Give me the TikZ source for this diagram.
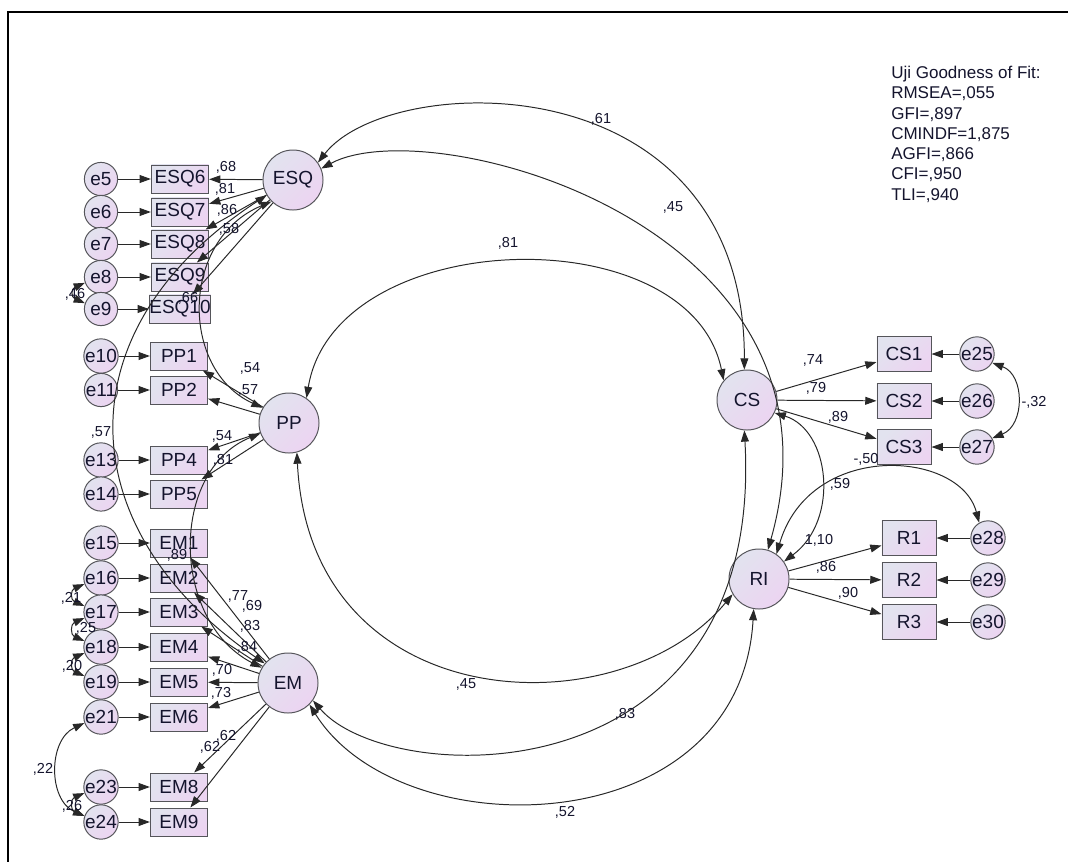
\documentclass[tikz,border=0pt]{standalone}
\usepackage{fontspec}
\setmainfont{Liberation Sans}
\usepackage{tikz}
\usetikzlibrary{arrows.meta,positioning}

\definecolor{lavtop}{RGB}{226,227,239}
\definecolor{lavbot}{RGB}{236,212,241}
\definecolor{ink}{RGB}{20,20,45}
\definecolor{wire}{RGB}{40,40,40}
\definecolor{rim}{RGB}{85,85,90}

\begin{document}
\begin{tikzpicture}[
  x=0.025cm, y=-0.025cm,
  latent/.style={circle, draw=rim, line width=0.7pt, top color=lavtop, bottom color=lavbot, shading angle=45, minimum size=1.5cm, inner sep=0pt, font=\fontsize{13.5}{15}\selectfont, text=ink},
  err/.style={latent, minimum size=0.83cm},
  obs/.style={rectangle, draw=rim, line width=0.7pt, top color=lavtop, bottom color=lavbot, shading angle=45, minimum width=1.43cm, minimum height=0.7cm, inner sep=0pt, font=\fontsize{13.5}{15}\selectfont, text=ink},
  obsr/.style={obs, minimum width=1.35cm, minimum height=0.875cm},
  arrow/.style={-{Triangle[length=8pt,width=5.6pt]}, wire, line width=0.7pt},
  cov/.style={{Triangle[length=8pt,width=5.6pt]}-{Triangle[length=8pt,width=5.6pt]}, wire, line width=0.7pt},
  lbl/.style={font=\fontsize{10.3}{12}\selectfont, text=ink, inner sep=0pt}
]
\useasboundingbox (0,0) rectangle (1068,862);
\fill[white] (0,0) rectangle (1068,862);
\draw[line width=1.6pt] (8,862) -- (8,12) -- (1068,12);

% Latent variables
\node[latent] (esq) at (293,180) {ESQ};
\node[latent] (pp) at (289,423) {PP};
\node[latent] (em) at (288,683) {EM};
\node[latent] (cs) at (747,400) {CS};
\node[latent] (ri) at (759,579) {RI};

% ESQ indicators
\node[err] (e5) at (101,179) {e5};   \node[obs] (esq6) at (180,179) {ESQ6};
\node[err] (e6) at (101,212) {e6};   \node[obs] (esq7) at (180,212) {ESQ7};
\node[err] (e7) at (101,244) {e7};   \node[obs] (esq8) at (180,244) {ESQ8};
\node[err] (e8) at (101,277) {e8};   \node[obs] (esq9) at (180,277) {ESQ9};
\node[err] (e9) at (101,309) {e9};   \node[obs] (esq10) at (180,309) {ESQ10};

% PP indicators
\node[err] (e10) at (101,356) {e10}; \node[obs] (pp1) at (179,356) {PP1};
\node[err] (e11) at (101,390) {e11}; \node[obs] (pp2) at (179,390) {PP2};
\node[err] (e13) at (101,460) {e13}; \node[obs] (pp4) at (179,460) {PP4};
\node[err] (e14) at (101,494) {e14}; \node[obs] (pp5) at (179,494) {PP5};

% EM indicators
\node[err] (e15) at (101,543) {e15}; \node[obs] (em1) at (179,543) {EM1};
\node[err] (e16) at (101,578) {e16}; \node[obs] (em2) at (179,578) {EM2};
\node[err] (e17) at (101,612) {e17}; \node[obs] (em3) at (179,612) {EM3};
\node[err] (e18) at (101,647) {e18}; \node[obs] (em4) at (179,647) {EM4};
\node[err] (e19) at (101,682) {e19}; \node[obs] (em5) at (179,682) {EM5};
\node[err] (e21) at (101,717) {e21}; \node[obs] (em6) at (179,717) {EM6};
\node[err] (e23) at (101,787) {e23}; \node[obs] (em8) at (179,787) {EM8};
\node[err] (e24) at (101,822) {e24}; \node[obs] (em9) at (179,822) {EM9};

% CS and RI indicators
\node[obsr] (cs1) at (904,354) {CS1}; \node[err] (e25) at (977,354) {e25};
\node[obsr] (cs2) at (904,401) {CS2}; \node[err] (e26) at (977,401) {e26};
\node[obsr] (cs3) at (904,447) {CS3}; \node[err] (e27) at (977,447) {e27};
\node[obsr] (r1) at (909,538) {R1};   \node[err] (e28) at (988,538) {e28};
\node[obsr] (r2) at (909,580) {R2};   \node[err] (e29) at (988,580) {e29};
\node[obsr] (r3) at (909,622) {R3};   \node[err] (e30) at (988,622) {e30};

% Goodness of fit
\node[anchor=north west, align=left, inner sep=0pt, text=ink,
  font=\fontsize{12.1}{14.4}\selectfont] (gof) at (891,66)
  {Uji Goodness of Fit:\\RMSEA=,055\\GFI=,897\\CMINDF=1,875\\AGFI=,866\\CFI=,950\\TLI=,940};

% Error terms
\draw[arrow] (e5) -- (esq6);   \draw[arrow] (e6) -- (esq7);
\draw[arrow] (e7) -- (esq8);   \draw[arrow] (e8) -- (esq9);
\draw[arrow] (e9) -- (esq10);  \draw[arrow] (e10) -- (pp1);
\draw[arrow] (e11) -- (pp2);   \draw[arrow] (e13) -- (pp4);
\draw[arrow] (e14) -- (pp5);   \draw[arrow] (e15) -- (em1);
\draw[arrow] (e16) -- (em2);   \draw[arrow] (e17) -- (em3);
\draw[arrow] (e18) -- (em4);   \draw[arrow] (e19) -- (em5);
\draw[arrow] (e21) -- (em6);   \draw[arrow] (e23) -- (em8);
\draw[arrow] (e24) -- (em9);
\draw[arrow] (e25) -- (cs1);   \draw[arrow] (e26) -- (cs2);
\draw[arrow] (e27) -- (cs3);   \draw[arrow] (e28) -- (r1);
\draw[arrow] (e29) -- (r2);    \draw[arrow] (e30) -- (r3);

% Loadings
\draw[arrow] (esq) -- (esq6);  \draw[arrow] (esq) -- (esq7);
\draw[arrow] (esq) -- (esq8);  \draw[arrow] (esq) -- (esq9);
\draw[arrow] (esq) -- (esq10);
\draw[arrow] (pp) -- (pp1);    \draw[arrow] (pp) -- (pp2);
\draw[arrow] (pp) -- (pp4);    \draw[arrow] (pp) -- (pp5);
\draw[arrow] (em) -- (em1);    \draw[arrow] (em) -- (em2);
\draw[arrow] (em) -- (em3);    \draw[arrow] (em) -- (em4);
\draw[arrow] (em) -- (em5);    \draw[arrow] (em) -- (em6);
\draw[arrow] (em) -- (em8);    \draw[arrow] (em) -- (em9);
\draw[arrow] (cs) -- (cs1);    \draw[arrow] (cs) -- (cs2);
\draw[arrow] (cs) -- (cs3);
\draw[arrow] (ri) -- (r1);     \draw[arrow] (ri) -- (r2);
\draw[arrow] (ri) -- (r3);

% Covariances between latents
\draw[cov] (esq.35) .. controls (390,70) and (745,60) .. (cs.95);
\draw[cov] (esq.22) .. controls (430,110) and (860,225) .. (ri.73);
\draw[cov] (pp.55) .. controls (335,225) and (690,215) .. (cs.140);
\draw[cov] (pp.285) .. controls (310,720) and (620,730) .. (ri.210);
\draw[cov] (em.-35) .. controls (390,790) and (765,800) .. (cs.265);
\draw[cov] (em.-45) .. controls (400,850) and (740,845) .. (ri.260);
\draw[cov] (cs.-25) .. controls (830,430) and (840,520) .. (ri.35);
\draw[cov] (esq.210) .. controls (60,330) and (70,530) .. (em.140);
\draw[cov] (esq.225) .. controls (180,240) and (180,370) .. (pp.150);
\draw[cov] (pp.200) .. controls (170,470) and (170,620) .. (em.150);

% Covariances between errors
\draw[cov] (e28.120) .. controls (960,450) and (810,440) .. (ri.55);
\draw[cov] (e25.-30) .. controls (1025,375) and (1025,425) .. (e27.30);
\draw[cov] (e8.200) .. controls +(-14,6) and +(-14,-6) .. (e9.160);
\draw[cov] (e16.200) .. controls +(-14,6) and +(-14,-6) .. (e17.160);
\draw[cov] (e17.200) .. controls +(-14,6) and +(-14,-6) .. (e18.160);
\draw[cov] (e18.200) .. controls +(-14,6) and +(-14,-6) .. (e19.160);
\draw[cov] (e23.200) .. controls +(-14,6) and +(-14,-6) .. (e24.160);
\draw[cov] (e21.200) .. controls (48,740) and (48,800) .. (e24.160);

% Estimates
\node[lbl] (l1) at (226,167) {,68};
\node[lbl] (l2) at (225,189) {,81};
\node[lbl] (l3) at (227,210) {,86};
\node[lbl] (l4) at (229,229) {,58};
\node[lbl] (l5) at (188,298) {,66};
\node[lbl] (l6) at (75,294) {,46};
\node[lbl] (l7) at (250,368) {,54};
\node[lbl] (l8) at (248,390) {,57};
\node[lbl] (l9) at (101,432) {,57};
\node[lbl] (l10) at (222,436) {,54};
\node[lbl] (l11) at (223,460) {,81};
\node[lbl] (l12) at (177,555) {,89};
\node[lbl] (l13) at (238,596) {,77};
\node[lbl] (l14) at (252,606) {,69};
\node[lbl] (l15) at (250,626) {,83};
\node[lbl] (l16) at (247,647) {,84};
\node[lbl] (l17) at (222,670) {,70};
\node[lbl] (l18) at (221,693) {,73};
\node[lbl] (l19) at (226,736) {,62};
\node[lbl] (l20) at (210,747) {,62};
\node[lbl] (l21) at (71,598) {,21};
\node[lbl] (l22) at (86,628) {,25};
\node[lbl] (l23) at (72,666) {,20};
\node[lbl] (l24) at (43,769) {,22};
\node[lbl] (l25) at (72,806) {,26};
\node[lbl] (l26) at (813,360) {,74};
\node[lbl] (l27) at (816,388) {,79};
\node[lbl] (l28) at (838,417) {,89};
\node[lbl] (l29) at (866,459) {-,50};
\node[lbl] (l30) at (1034,402) {-,32};
\node[lbl] (l31) at (840,484) {,59};
\node[lbl] (l32) at (819,540) {1,10};
\node[lbl] (l33) at (826,567) {,86};
\node[lbl] (l34) at (848,593) {,90};
\node[lbl] (l35) at (601,119) {,61};
\node[lbl] (l36) at (673,207) {,45};
\node[lbl] (l37) at (508,243) {,81};
\node[lbl] (l38) at (466,684) {,45};
\node[lbl] (l39) at (625,714) {,83};
\node[lbl] (l40) at (565,812) {,52};
\end{tikzpicture}
\end{document}
